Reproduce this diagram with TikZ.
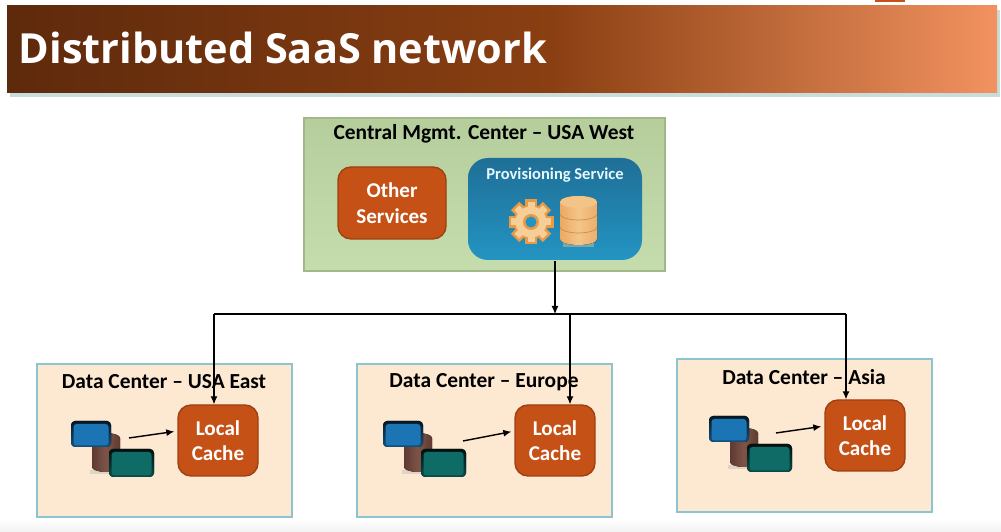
\documentclass[tikz,border=0pt]{standalone}
\usepackage{fontspec}
\setmainfont{Carlito}
\newfontfamily\titlefont{Open Sans}
\usetikzlibrary{shadows,arrows.meta}
\definecolor{cacheorange}{HTML}{C55116}
\definecolor{mgmtgreen}{HTML}{BFD8A4}
\definecolor{dcpeach}{HTML}{FDE9D2}
\definecolor{dcedge}{HTML}{8CC4D0}
\definecolor{gearorange}{HTML}{E89A48}
\definecolor{gearlight}{HTML}{F6CF98}
\definecolor{provtop}{HTML}{1F6F96}
\definecolor{provbottom}{HTML}{2394C2}
\definecolor{bannerA}{HTML}{5E2A0C}
\definecolor{bannerB}{HTML}{8A3F12}
\definecolor{bannerC}{HTML}{F29260}
\definecolor{diskbrown}{HTML}{7E5448}
\definecolor{diskdark}{HTML}{5E3A32}
\definecolor{serverblue}{HTML}{1B75B5}
\definecolor{serverteal}{HTML}{0F6B66}
\pgfdeclarehorizontalshading{bannershade}{100bp}{color(0bp)=(bannerA); color(25bp)=(bannerA); color(52.5bp)=(bannerB); color(75bp)=(bannerC); color(100bp)=(bannerC)}
\tikzset{
  titlebar/.style={minimum width=9.9cm,minimum height=0.87cm,inner sep=0,shading=bannershade,drop shadow={shadow xshift=0.03cm,shadow yshift=-0.04cm,fill=black!30!teal!35,opacity=0.6}},
  dcbox/.style={draw=dcedge,fill=dcpeach,line width=0.3pt,minimum width=2.55cm,minimum height=1.53cm,inner sep=0},
  cachebox/.style={draw=cacheorange!80!black,fill=cacheorange,rounded corners=0.13cm,text=white,align=center,font=\fontsize{6}{7}\selectfont\bfseries,minimum width=0.8cm,minimum height=0.71cm,inner sep=0},
  boxtitle/.style={font=\fontsize{6.1}{7}\selectfont\bfseries,inner sep=0},
  link/.style={line width=0.3pt,-{Latex[length=0.08cm,width=0.07cm]}}
}
% servers and the disk under them
\newcommand{\serverstack}[2]{
\begin{scope}[shift={(#1,#2)}]
\fill[black!30,opacity=0.4] (0.18,-0.49) rectangle (0.46,-0.53);
\fill[left color=diskdark,right color=diskdark,middle color=diskbrown] (0.2,-0.17) -- (0.2,-0.46) arc (180:360:0.14 and 0.05) -- (0.48,-0.17) arc (0:180:0.14 and 0.05);
\fill[rounded corners=0.04cm,top color=black!80!serverblue,bottom color=serverblue!70!black] (-0.01,0) rectangle (0.39,-0.26);
\fill[rounded corners=0.03cm,fill=serverblue] (0.015,-0.03) rectangle (0.365,-0.245);
\fill[rounded corners=0.04cm,top color=black!85!serverteal,bottom color=serverteal!70!black] (0.37,-0.28) rectangle (0.82,-0.56);
\fill[rounded corners=0.03cm,fill=serverteal] (0.395,-0.31) rectangle (0.795,-0.545);
\end{scope}
}
\begin{document}
\begin{tikzpicture}
\useasboundingbox (0,0) rectangle (10.01,5.32);
\fill[white] (0,0) rectangle (10.01,5.32);
\fill[top color=white,bottom color=black!5] (0,0) rectangle (10.01,0.13);
\fill[cacheorange] (8.75,5.3) rectangle (9.05,5.32);
\node[titlebar] (banner) at (5.02,4.825) {};
\node[anchor=west,text=white,inner sep=0,font=\titlefont\fontsize{11.8}{13}\selectfont\bfseries] (bannertext) at (0.18,4.84) {Distributed SaaS network};
% central center
\node[top color=mgmtgreen!95!black,bottom color=mgmtgreen!90!white,draw=mgmtgreen!85!black,line width=0.3pt,minimum width=3.61cm,minimum height=1.53cm,inner sep=0] (central) at (4.845,3.375) {};
\node[boxtitle] (centraltitle) at (4.84,3.98) {Central Mgmt. Center -- USA West};
\node[cachebox,minimum width=1.08cm,minimum height=0.72cm,font=\fontsize{6}{7.4}\selectfont\bfseries] (other) at (3.92,3.29) {Other\\Services};
\node[minimum width=1.74cm,minimum height=1.02cm,inner sep=0,rounded corners=0.2cm,top color=provtop,bottom color=provbottom] (prov) at (5.55,3.23) {};
\node[text=white!90!cyan,inner sep=0,font=\fontsize{4.7}{5}\selectfont\bfseries] (provtitle) at (5.55,3.57) {Provisioning Service};
% gear
\foreach \a in {0,45,...,315}
  \fill[gearorange,rotate around={\a:(5.31,3.1)}] (5.25,3.1) rectangle (5.37,3.325);
\fill[gearorange] (5.31,3.1) circle (0.175);
\foreach \a in {0,45,...,315}
  \fill[gearlight,rotate around={\a:(5.31,3.1)}] (5.275,3.1) rectangle (5.345,3.3);
\fill[gearlight] (5.31,3.1) circle (0.155);
\fill[gearorange] (5.31,3.1) circle (0.08);
\fill[provbottom] (5.31,3.1) circle (0.055);
% disk
\fill[gearlight,opacity=0.4] (5.63,2.85) rectangle (5.94,2.9);
\fill[left color=gearorange!85!white,right color=gearorange!80!white,middle color=gearlight!80!gearorange] (5.6,3.3) -- (5.6,2.93) arc (180:360:0.185 and 0.06) -- (5.97,3.3) arc (0:180:0.185 and 0.06);
\fill[gearlight!80!gearorange] (5.785,3.3) ellipse (0.185 and 0.06);
\draw[gearorange!90!black,line width=0.2pt] (5.6,3.18) arc (180:360:0.185 and 0.06);
\draw[gearorange!90!black,line width=0.2pt] (5.6,3.05) arc (180:360:0.185 and 0.06);
% data centers
\node[dcbox] (dcA) at (1.645,0.915) {};
\node[dcbox] (dcB) at (4.845,0.915) {};
\node[dcbox] (dcC) at (8.045,0.965) {};
\node[boxtitle] (dcAtitle) at (1.64,1.50) {Data Center -- USA East};
\node[boxtitle] (dcBtitle) at (4.84,1.50) {Data Center -- Europe};
\node[boxtitle] (dcCtitle) at (8.04,1.55) {Data Center -- Asia};
\node[cachebox] (cacheA) at (2.18,0.915) {Local\\Cache};
\node[cachebox] (cacheB) at (5.55,0.915) {Local\\Cache};
\node[cachebox] (cacheC) at (8.65,0.965) {Local\\Cache};
\serverstack{0.72}{1.11}
\serverstack{3.84}{1.11}
\serverstack{7.10}{1.16}
% links
\coordinate (busA) at (2.14,2.18);
\coordinate (busB) at (5.70,2.18);
\coordinate (busC) at (8.46,2.18);
\coordinate (srcA) at (1.29,0.94);
\coordinate (srcB) at (4.63,0.91);
\coordinate (srcC) at (7.76,0.99);
\draw[line width=0.3pt] (busA) -- (busC);
\draw[link] (prov.south) -- (prov.south |- busA);
\draw[link] (busA) -- (busA |- cacheA.north);
\draw[link] (busB) -- (busB |- cacheB.north);
\draw[link] (busC) -- (busC |- cacheC.north);
\draw[link,line width=0.4pt,shorten >=0.03cm] (srcA) -- (cacheA.167);
\draw[link,line width=0.4pt,shorten >=0.03cm] (srcB) -- (cacheB.167);
\draw[link,line width=0.4pt,shorten >=0.03cm] (srcC) -- (cacheC.167);
\end{tikzpicture}
\end{document}
